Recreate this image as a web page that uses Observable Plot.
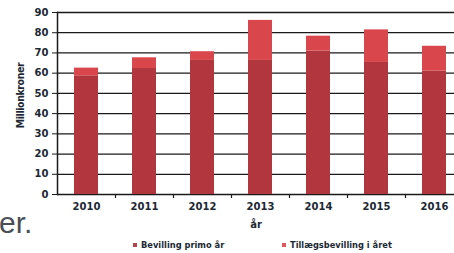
<!DOCTYPE html>
<html>
<head>
<meta charset="utf-8">
<script src="https://cdn.jsdelivr.net/npm/d3@7"></script>
<script src="https://cdn.jsdelivr.net/npm/@observablehq/plot@0.6"></script>
<style>
  html, body { margin: 0; padding: 0; background: #fff; }
  #wrap { position: relative; width: 454px; height: 253px; overflow: hidden; }
  #frag { position: absolute; left: -1px; top: 208px; font-family: "Liberation Sans", Arial, sans-serif; font-size: 30px; color: #4a4f55; line-height: 1; }
  .leg { position: absolute; top: 240px; font-family: "DejaVu Sans", sans-serif; font-weight: bold; font-size: 8.3px; color: #1c2833; white-space: nowrap; line-height: 10px; }
  .sw { display: inline-block; width: 4px; height: 4px; margin-right: 4px; vertical-align: 1px; }
  g[aria-label="y-axis label"] text { font-family: "DejaVu Sans Condensed", "DejaVu Sans", sans-serif; font-size: 10.5px; letter-spacing: -0.4px; }
</style>
</head>
<body>
<div id="wrap">
  <div id="chart"></div>
  <div id="frag">er.</div>
  <div id="legend"></div>
</div>
<script>
const years = ["2010", "2011", "2012", "2013", "2014", "2015", "2016"];
const seriesNames = ["Bevilling primo år", "Tillægsbevilling i året"];
const primo = [58.7, 62.3, 66.3, 66.3, 70.9, 65.3, 61.0];
const tillaeg = [3.8, 5.3, 4.3, 19.8, 7.4, 16.1, 12.3];
const yTicks = [0, 10, 20, 30, 40, 50, 60, 70, 80, 90];
const colors = ["#b2363d", "#d9464c"];
const legendColors = ["#b8424a", "#e0575d"];

const data = years.flatMap((y, i) => [
  {year: y, series: seriesNames[0], value: primo[i]},
  {year: y, series: seriesNames[1], value: tillaeg[i]}
]);

const chart = Plot.plot({
  width: 454,
  height: 236,
  marginLeft: 57,
  marginRight: 0,
  marginTop: 12,
  marginBottom: 42,
  style: {fontFamily: "DejaVu Sans", fontWeight: "bold", fontSize: "10px", color: "#1c2833", background: "white"},
  x: {domain: years, range: [57, 463.6], paddingInner: 0.59, paddingOuter: 0.294, label: null},
  y: {domain: [0, 90], label: null},
  color: {domain: seriesNames, range: colors},
  marks: [
    Plot.ruleY(yTicks, {stroke: "#1a1a1a", strokeWidth: 1.3}),
    Plot.barY(data, {x: "year", y: "value", fill: "series"}),
    Plot.ruleX(years, {x: d => d, dx: 29, y1: 0, y2: 0, insetBottom: -4, stroke: "#1a1a1a", strokeWidth: 1.2}),
    Plot.frame({anchor: "left", stroke: "#1a1a1a", strokeWidth: 1.5}),
    Plot.axisY({ticks: yTicks, tickSize: 5, tickPadding: 4, label: "Millionkroner", labelAnchor: "center", labelArrow: "none", labelOffset: 41, stroke: "#1a1a1a"}),
    Plot.axisX({tickSize: 0, tickPadding: 8, label: "år", labelAnchor: "center", labelArrow: "none", labelOffset: 33})
  ]
});
const yl = chart.querySelector('g[aria-label="y-axis label"]');
if (yl) {
  const t = yl.getAttribute("transform") || "";
  yl.setAttribute("transform", ("translate(0,-8) " + t).trim());
}
document.getElementById("chart").appendChild(chart);

const legend = document.getElementById("legend");
const legendX = [133, 282];
seriesNames.forEach((name, i) => {
  const item = document.createElement("div");
  item.className = "leg";
  item.style.left = legendX[i] + "px";
  item.innerHTML = `<span class="sw" style="background:${legendColors[i]}"></span>${name}`;
  legend.appendChild(item);
});
</script>
</body>
</html>
